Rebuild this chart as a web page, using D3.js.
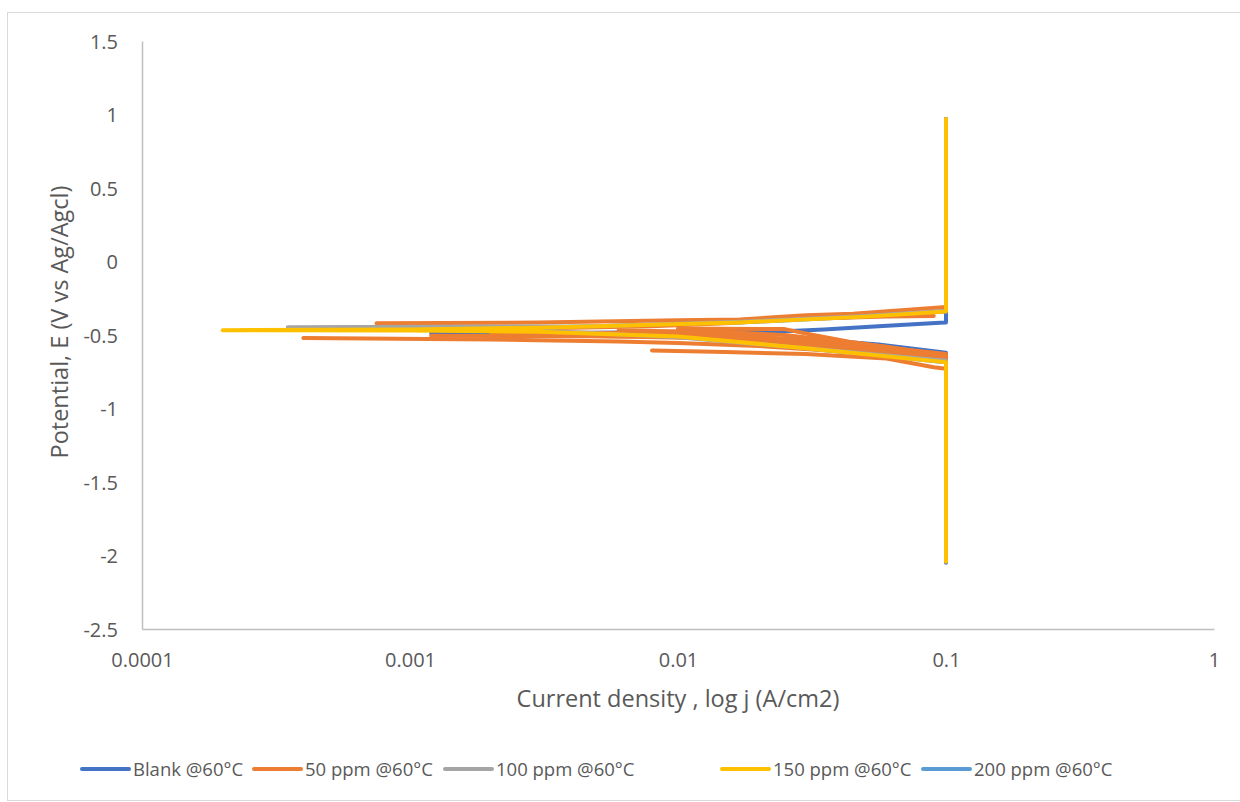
<!DOCTYPE html>
<html>
<head>
<meta charset="utf-8">
<script src="https://cdn.jsdelivr.net/npm/d3@7"></script>
<style>
  body { margin: 0; background: #fff; }
  text { font-family: "Open Sans", "Liberation Sans", sans-serif; fill: #595959; }
</style>
</head>
<body>
<div class="canvas"></div>
<script>
// data: [current density (A/cm2), potential (V)] - each series is a list of polylines
const xTicks = [0.0001, 0.001, 0.01, 0.1, 1]
const yTicks = [1.5, 1, 0.5, 0, -0.5, -1, -1.5, -2, -2.5]
const seriesNames = ['Blank @60°C', '50 ppm @60°C', '100 ppm @60°C', '150 ppm @60°C', '200 ppm @60°C']
const seriesColors = ['#4472C4', '#ED7D31', '#A5A5A5', '#FFC000', '#5B9BD5']

const blank = [
  [[0.1, 0.97], [0.1, -0.415], [0.095, -0.416], [0.056, -0.44], [0.035, -0.463], [0.025, -0.474],
   [0.01, -0.48], [0.002, -0.49], [0.0012, -0.49], [0.003, -0.5], [0.01, -0.51], [0.02, -0.525],
   [0.035, -0.535], [0.056, -0.565], [0.1, -0.62], [0.1, -2.05]]
]
const ppm50 = [
  [[0.1, 0.97], [0.1, -0.31], [0.045, -0.355], [0.03, -0.365], [0.017, -0.395], [0.01, -0.4],
   [0.003, -0.415], [0.00075, -0.42]],
  [[0.09, -0.37], [0.06, -0.375], [0.03, -0.39], [0.015, -0.42], [0.008, -0.44], [0.004, -0.45], [0.002, -0.46]],
  [[0.0004, -0.52], [0.002, -0.53], [0.003, -0.535], [0.006, -0.545], [0.01, -0.555], [0.02, -0.575],
   [0.04, -0.61], [0.07, -0.64], [0.1, -0.66]],
  [[0.008, -0.605], [0.015, -0.615], [0.03, -0.63], [0.06, -0.66], [0.09, -0.72], [0.1, -0.73]],
  [[0.002, -0.48], [0.01, -0.49], [0.02, -0.51], [0.03, -0.54], [0.05, -0.57], [0.1, -0.63]],
  [[0.003, -0.5], [0.012, -0.52], [0.022, -0.54], [0.03, -0.58], [0.05, -0.6], [0.1, -0.65]],
  [[0.01, -0.455], [0.025, -0.46], [0.032, -0.5], [0.045, -0.55], [0.1, -0.64]],
  [[0.006, -0.47], [0.015, -0.48], [0.025, -0.5], [0.035, -0.53], [0.06, -0.58], [0.1, -0.645]],
  [[0.0012, -0.505], [0.008, -0.51], [0.02, -0.53], [0.03, -0.56], [0.06, -0.6], [0.1, -0.67]],
  [[0.1, -0.7], [0.1, -2.04]]
]
const ppm100 = [
  [[0.1, 0.97], [0.1, -0.335], [0.05, -0.37], [0.017, -0.41], [0.005, -0.44], [0.00035, -0.447]],
  [[0.0006, -0.452], [0.003, -0.47], [0.01, -0.515], [0.03, -0.59], [0.1, -0.675], [0.1, -2.04]]
]
const ppm150 = [
  [[0.1, 0.97], [0.1, -0.34], [0.05, -0.375], [0.017, -0.415], [0.003, -0.45], [0.001, -0.462],
   [0.0002, -0.467], [0.001, -0.47], [0.003, -0.478], [0.01, -0.51], [0.03, -0.59],
   [0.1, -0.685], [0.1, -2.04]]
]
const ppm200 = [
  [[0.1, 0.97], [0.1, -0.34], [0.05, -0.375], [0.017, -0.415], [0.003, -0.45], [0.0015, -0.462],
   [0.003, -0.478], [0.01, -0.51], [0.03, -0.59], [0.1, -0.685], [0.1, -2.04]]
]
const allSeries = [blank, ppm50, ppm100, ppm150, ppm200]
const drawOrder = [4, 0, 1, 2, 3]

const dims = { width: 1240, height: 802 }
const plot = { left: 142, right: 1214, top: 41, bottom: 629 }

const svg = d3.select('.canvas')
    .append('svg')
    .attr('width', dims.width)
    .attr('height', dims.height)

// chart border
svg.append('rect')
    .attr('x', 7.5).attr('y', 12.5)
    .attr('width', 1240).attr('height', 788)
    .attr('fill', 'none')
    .attr('stroke', '#D9D9D9')

const x = d3.scaleLog().domain([0.0001, 1]).range([plot.left, plot.right])
const y = d3.scaleLinear().domain([-2.5, 1.5]).range([plot.bottom, plot.top])

// axes
const xAxis = d3.axisBottom(x).tickValues(xTicks).tickSize(0).tickFormat(d => String(d))
const yAxis = d3.axisLeft(y).tickValues(yTicks).tickSize(0).tickFormat(d => String(d))

const gx = svg.append('g').attr('transform', `translate(0, ${plot.bottom})`).call(xAxis)
gx.select('.domain').attr('stroke', '#BFBFBF').attr('stroke-width', 1.5)
gx.selectAll('text').attr('dy', null).attr('y', 38).attr('font-size', 20)
    .style('font-family', '"Open Sans", sans-serif').attr('fill', '#595959')

const gy = svg.append('g').attr('transform', `translate(${plot.left}, 0)`).call(yAxis)
gy.select('.domain').attr('stroke', '#BFBFBF').attr('stroke-width', 1.5)
gy.selectAll('text').attr('x', -24).attr('dy', '0.35em').attr('font-size', 20)
    .style('font-family', '"Open Sans", sans-serif').attr('fill', '#595959')

// axis titles
svg.append('text')
    .attr('x', (plot.left + plot.right) / 2).attr('y', 707)
    .attr('text-anchor', 'middle').attr('font-size', 23.5)
    .text('Current density , log j (A/cm2)')

svg.append('text')
    .attr('transform', `translate(68, 322) rotate(-90)`)
    .attr('text-anchor', 'middle').attr('font-size', 23.5)
    .text('Potential, E (V vs Ag/Agcl)')

// series lines
const line = d3.line().x(d => x(d[0])).y(d => y(d[1]))

drawOrder.forEach(i => {
    svg.append('g')
        .selectAll('path')
        .data(allSeries[i])
        .enter()
        .append('path')
            .attr('d', line)
            .attr('fill', 'none')
            .attr('stroke', seriesColors[i])
            .attr('stroke-width', 4)
            .attr('stroke-linejoin', 'round')
            .attr('stroke-linecap', 'round')
})

// legend
const legendX = [82, 254, 445, 722, 923]
const legend = svg.append('g')
seriesNames.forEach((name, i) => {
    legend.append('line')
        .attr('x1', legendX[i]).attr('x2', legendX[i] + 47)
        .attr('y1', 769).attr('y2', 769)
        .attr('stroke', seriesColors[i]).attr('stroke-width', 4)
        .attr('stroke-linecap', 'round')
    legend.append('text')
        .attr('x', legendX[i] + 51).attr('y', 776)
        .attr('font-size', 18.5)
        .text(name)
})
</script>
</body>
</html>
